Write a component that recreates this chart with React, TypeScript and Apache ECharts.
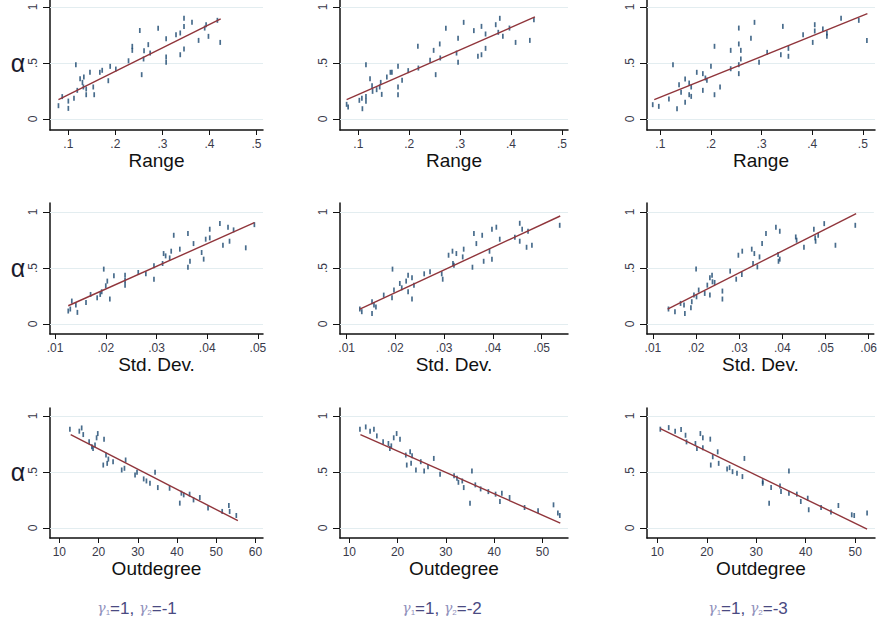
import React, { useEffect, useRef } from "react";
import * as echarts from "echarts";

// ---------- data ----------
const rangeTicks = [0.1, 0.2, 0.3, 0.4, 0.5];
const sdTicksA = [0.01, 0.02, 0.03, 0.04, 0.05];
const sdTicksB = [0.01, 0.02, 0.03, 0.04, 0.05, 0.06];
const outTicksA = [10, 20, 30, 40, 50, 60];
const outTicksB = [10, 20, 30, 40, 50];
const yTicks = [0, 0.5, 1];

const xTitles = ["Range", "Std. Dev.", "Outdegree"];
const gamma2 = ["-1", "-2", "-3"];

const range1: number[][] = [[0.079,0.119],[0.087,0.2],[0.1,0.16],[0.1,0.095],[0.112,0.185],[0.116,0.485],[0.119,0.256],[0.125,0.36],[0.13,0.327],[0.132,0.286],[0.133,0.375],[0.138,0.268],[0.138,0.217],[0.146,0.417],[0.153,0.286],[0.155,0.217],[0.167,0.417],[0.172,0.435],[0.185,0.342],[0.189,0.47],[0.201,0.446],[0.228,0.52],[0.236,0.649],[0.236,0.613],[0.252,0.79],[0.256,0.396],[0.26,0.536],[0.261,0.61],[0.27,0.664],[0.274,0.589],[0.291,0.81],[0.308,0.717],[0.308,0.554],[0.308,0.506],[0.329,0.753],[0.338,0.768],[0.338,0.574],[0.346,0.827],[0.346,0.899],[0.346,0.625],[0.363,0.863],[0.377,0.702],[0.39,0.812],[0.393,0.842],[0.398,0.738],[0.417,0.881],[0.423,0.684]];
const range2: number[][] = [[0.077,0.131],[0.08,0.107],[0.102,0.167],[0.107,0.185],[0.108,0.092],[0.115,0.158],[0.115,0.202],[0.115,0.485],[0.123,0.36],[0.127,0.298],[0.128,0.247],[0.136,0.262],[0.142,0.286],[0.144,0.327],[0.146,0.22],[0.156,0.375],[0.163,0.417],[0.166,0.417],[0.178,0.47],[0.178,0.286],[0.178,0.217],[0.186,0.345],[0.198,0.432],[0.217,0.649],[0.218,0.455],[0.241,0.524],[0.248,0.613],[0.252,0.396],[0.26,0.67],[0.261,0.545],[0.272,0.81],[0.293,0.589],[0.296,0.72],[0.296,0.506],[0.307,0.863],[0.327,0.789],[0.335,0.56],[0.342,0.827],[0.342,0.574],[0.35,0.759],[0.35,0.631],[0.37,0.842],[0.378,0.899],[0.375,0.774],[0.384,0.738],[0.397,0.812],[0.409,0.684],[0.437,0.702],[0.445,0.887]];
const range3: number[][] = [[0.085,0.128],[0.097,0.113],[0.117,0.179],[0.125,0.485],[0.133,0.092],[0.137,0.307],[0.141,0.238],[0.149,0.357],[0.149,0.149],[0.157,0.321],[0.157,0.217],[0.161,0.286],[0.161,0.202],[0.172,0.417],[0.184,0.405],[0.184,0.256],[0.189,0.366],[0.192,0.345],[0.2,0.47],[0.207,0.649],[0.207,0.217],[0.218,0.286],[0.239,0.613],[0.239,0.449],[0.255,0.812],[0.255,0.67],[0.255,0.485],[0.255,0.405],[0.259,0.613],[0.259,0.536],[0.279,0.72],[0.286,0.863],[0.295,0.506],[0.311,0.595],[0.338,0.574],[0.342,0.827],[0.353,0.631],[0.353,0.56],[0.382,0.753],[0.401,0.684],[0.405,0.842],[0.405,0.786],[0.421,0.804],[0.429,0.768],[0.429,0.738],[0.457,0.899],[0.492,0.881],[0.508,0.702]];

const sd1: number[][] = [[0.0126,0.116],[0.013,0.134],[0.0133,0.205],[0.0141,0.169],[0.0144,0.104],[0.0161,0.193],[0.017,0.264],[0.0183,0.234],[0.0189,0.264],[0.0192,0.288],[0.0196,0.49],[0.02,0.341],[0.0203,0.383],[0.0208,0.223],[0.0216,0.43],[0.0238,0.436],[0.0238,0.389],[0.0238,0.347],[0.0264,0.46],[0.0279,0.448],[0.0295,0.4],[0.0295,0.519],[0.0312,0.54],[0.0314,0.629],[0.0318,0.608],[0.0326,0.59],[0.0329,0.65],[0.0334,0.792],[0.0346,0.668],[0.0362,0.807],[0.0362,0.507],[0.0366,0.56],[0.0373,0.718],[0.0389,0.638],[0.0393,0.579],[0.0397,0.757],[0.0405,0.846],[0.0405,0.769],[0.0425,0.896],[0.0431,0.703],[0.0441,0.864],[0.0444,0.739],[0.0452,0.84],[0.0476,0.68],[0.0493,0.887]];
const sd2: number[][] = [[0.0127,0.134],[0.0131,0.11],[0.0152,0.095],[0.0152,0.199],[0.0156,0.169],[0.016,0.151],[0.0176,0.258],[0.0193,0.234],[0.0194,0.49],[0.0197,0.303],[0.0209,0.362],[0.0213,0.323],[0.0222,0.383],[0.0226,0.436],[0.0226,0.288],[0.0234,0.412],[0.0234,0.223],[0.0238,0.347],[0.0259,0.448],[0.0271,0.466],[0.0295,0.448],[0.0297,0.4],[0.0309,0.614],[0.0317,0.65],[0.0318,0.54],[0.032,0.525],[0.0325,0.629],[0.0338,0.599],[0.034,0.668],[0.0358,0.507],[0.0361,0.807],[0.0366,0.718],[0.0378,0.792],[0.0381,0.56],[0.0393,0.65],[0.0398,0.579],[0.0398,0.846],[0.0407,0.864],[0.0414,0.757],[0.0445,0.774],[0.0455,0.899],[0.0455,0.739],[0.046,0.846],[0.0469,0.685],[0.0472,0.828],[0.048,0.703],[0.0537,0.881]];
const sd3: number[][] = [[0.0136,0.134],[0.0151,0.11],[0.0164,0.184],[0.0172,0.169],[0.0174,0.095],[0.0188,0.145],[0.019,0.199],[0.0195,0.258],[0.02,0.49],[0.0201,0.243],[0.0206,0.303],[0.022,0.273],[0.0226,0.347],[0.0232,0.258],[0.0232,0.412],[0.0237,0.436],[0.0238,0.377],[0.0243,0.371],[0.0261,0.294],[0.0261,0.223],[0.0279,0.472],[0.0293,0.4],[0.0298,0.614],[0.0306,0.442],[0.0307,0.65],[0.0329,0.668],[0.0332,0.54],[0.0335,0.629],[0.0342,0.51],[0.0347,0.599],[0.0353,0.718],[0.0362,0.807],[0.0385,0.864],[0.039,0.62],[0.0391,0.56],[0.0394,0.828],[0.0394,0.579],[0.0431,0.777],[0.0433,0.748],[0.045,0.685],[0.0473,0.846],[0.0476,0.769],[0.0477,0.739],[0.0483,0.792],[0.0497,0.896],[0.0523,0.703],[0.0569,0.881]];

const out1: number[][] = [[12.7,0.882],[15.1,0.864],[15.7,0.893],[16.1,0.834],[17.6,0.769],[18.3,0.725],[18.6,0.71],[19.1,0.74],[19.5,0.805],[19.8,0.843],[21.4,0.793],[21.2,0.562],[21.9,0.651],[22.2,0.577],[22.5,0.615],[23.7,0.592],[25.9,0.518],[26.6,0.533],[26.9,0.607],[29.3,0.473],[29.8,0.497],[31.5,0.438],[32.2,0.42],[33.1,0.399],[34.4,0.497],[35.1,0.361],[38.1,0.355],[40.7,0.222],[41.1,0.311],[41.7,0.296],[43.2,0.302],[44.2,0.251],[45.8,0.272],[47.9,0.178],[51.5,0.148],[53.2,0.201],[53.4,0.148],[55.1,0.112]];
const out2: number[][] = [[12.2,0.882],[13.4,0.902],[14.3,0.864],[15.1,0.882],[15.7,0.822],[17,0.769],[18.1,0.754],[18.4,0.71],[18.7,0.733],[19.2,0.805],[19.8,0.843],[20.5,0.793],[21.7,0.651],[21.9,0.562],[22.6,0.68],[22.8,0.577],[23,0.645],[23.8,0.518],[24.8,0.592],[25.5,0.509],[26.3,0.547],[27.5,0.621],[28.8,0.479],[31.7,0.467],[32.3,0.444],[32.6,0.408],[33.4,0.42],[33.7,0.361],[35,0.222],[35.4,0.509],[36.1,0.385],[37.2,0.349],[38.8,0.325],[40.3,0.302],[41.2,0.237],[41.6,0.311],[43.2,0.272],[46.3,0.183],[49.1,0.154],[52.3,0.207],[53.2,0.133],[53.6,0.112]];
const out3: number[][] = [[10.6,0.882],[12.3,0.896],[13.6,0.864],[14.8,0.879],[15.7,0.828],[15.9,0.769],[17.7,0.754],[18,0.71],[18.7,0.843],[19.2,0.805],[19.2,0.716],[20.7,0.793],[20.8,0.562],[21.2,0.636],[22.2,0.68],[22.4,0.577],[24.1,0.527],[24.6,0.539],[25.2,0.503],[26.1,0.488],[27.2,0.459],[27.6,0.621],[31.3,0.414],[31.3,0.399],[32.6,0.222],[33,0.361],[34.8,0.376],[35,0.325],[36.6,0.509],[36.6,0.311],[38.2,0.302],[39,0.237],[40.4,0.266],[40.6,0.163],[43.1,0.183],[45.1,0.142],[46.6,0.201],[49.3,0.118],[49.8,0.112],[52.4,0.133]];

// fitted-line endpoints
const rangeFit1 = [[0.079, 0.173], [0.424, 0.893]];
const rangeFit2 = [[0.077, 0.173], [0.447, 0.911]];
const rangeFit3 = [[0.088, 0.173], [0.509, 0.94]];
const sdFit1 = [[0.0126, 0.163], [0.0493, 0.905]];
const sdFit2 = [[0.0127, 0.134], [0.0538, 0.964]];
const sdFit3 = [[0.0134, 0.134], [0.0571, 0.985]];
const outFit1 = [[12.9, 0.834], [55.5, 0.065]];
const outFit2 = [[12.3, 0.834], [53.7, 0.044]];
const outFit3 = [[10.6, 0.888], [52.4, -0.009]];

// axis extents (plot region edges)
const xRanges = [
  [[0.061, 0.514], [0.064, 0.512], [0.0737, 0.524]],
  [[0.009, 0.051], [0.00863, 0.0554], [0.00862, 0.0612]],
  [[7.63, 61.9], [8.07, 55.3], [7.91, 54.0]],
];
const yRanges = [[-0.098, 1.0625], [-0.089, 1.08], [-0.089, 1.071]];

const panelData = [[range1, range2, range3], [sd1, sd2, sd3], [out1, out2, out3]];
const panelFits = [[rangeFit1, rangeFit2, rangeFit3], [sdFit1, sdFit2, sdFit3], [outFit1, outFit2, outFit3]];
const panelTicks = [[rangeTicks, rangeTicks, rangeTicks], [sdTicksA, sdTicksA, sdTicksB], [outTicksA, outTicksB, outTicksB]];

// ---------- layout ----------
const colLeft = [50, 340, 647];
const colWidth = [213, 228, 228];
const rowTop = [0, 203, 408];
const rowHeight = [130, 131, 130];
const alphaY = [63, 268, 472];
const subX = [137, 442, 748];
const FONT = '"Liberation Sans", Arial, Helvetica, sans-serif';
const MARK = "#1a476f";
const FIT = "#90353b";
const GRIDC = "#e3edf0";

const fmt = (v: number) => {
  const s = String(+Number(v).toFixed(5));
  if (s.startsWith("0.")) return s.slice(1);
  if (s.startsWith("-0.")) return "-" + s.slice(2);
  return s;
};

export default function App() {
  const ref = useRef<HTMLDivElement>(null);
  useEffect(() => {
    if (!ref.current) return;
    const chart = echarts.init(ref.current, null, { renderer: "svg" });
    const grid: any[] = [];
    const xAxis: any[] = [];
    const yAxis: any[] = [];
    const series: any[] = [];
    const graphic: any[] = [];
    let idx = 0;
    for (let r = 0; r < 3; r++) {
      for (let c = 0; c < 3; c++) {
        grid.push({ left: colLeft[c], top: rowTop[r], width: colWidth[c], height: rowHeight[r], containLabel: false });
        xAxis.push({
          type: "value",
          gridIndex: idx,
          min: xRanges[r][c][0],
          max: xRanges[r][c][1],
          name: xTitles[r],
          nameLocation: "middle",
          nameGap: 19,
          nameTextStyle: { fontFamily: FONT, fontSize: 19, color: "#111", verticalAlign: "top" },
          axisLine: { onZero: false, lineStyle: { color: "#111", width: 1.5 } },
          axisTick: { show: true, length: 5, customValues: panelTicks[r][c], lineStyle: { color: "#111", width: 1 } },
          axisLabel: { customValues: panelTicks[r][c], formatter: fmt, fontFamily: FONT, fontSize: 12, color: "#3a3a4a", margin: 8 },
          splitLine: { show: false },
        });
        yAxis.push({
          type: "value",
          gridIndex: idx,
          min: yRanges[r][0],
          max: yRanges[r][1],
          axisLine: { onZero: false, lineStyle: { color: "#111", width: 1.5 } },
          axisTick: { show: true, length: 7, customValues: yTicks, lineStyle: { color: "#111", width: 1 } },
          axisLabel: { customValues: yTicks, formatter: fmt, rotate: 90, fontFamily: FONT, fontSize: 12, color: "#3a3a4a", margin: 11 },
          splitLine: { show: false },
        });
        series.push({
          type: "scatter",
          xAxisIndex: idx,
          yAxisIndex: idx,
          data: panelData[r][c],
          symbol: "rect",
          symbolSize: [1.7, 5],
          itemStyle: { color: MARK },
          z: 2,
          markLine: {
            silent: true,
            symbol: ["none", "none"],
            label: { show: false },
            lineStyle: { color: GRIDC, width: 1, type: "solid" },
            data: yTicks.map((v) => ({ yAxis: v })),
            z: 1,
          },
        });
        series.push({
          type: "line",
          xAxisIndex: idx,
          yAxisIndex: idx,
          data: panelFits[r][c],
          symbol: "none",
          lineStyle: { color: FIT, width: 1.4 },
          z: 3,
        });
        idx++;
      }
      // y title (first column only)
      graphic.push({
        type: "text",
        x: 18,
        y: alphaY[r],
        style: { text: "α", fontFamily: FONT, fontSize: 25, fill: "#1c1c2e", align: "center", verticalAlign: "middle" },
      });
    }
    for (let c = 0; c < 3; c++) {
      graphic.push({
        type: "text",
        x: subX[c],
        y: 608,
        style: {
          text: `{g|γ}{s|1}{n|=1, }{g|γ}{s|2}{n|=${gamma2[c]}}`,
          align: "center",
          verticalAlign: "middle",
          rich: {
            g: { fontFamily: '"DejaVu Serif", serif', fontSize: 14, fill: "#9090bb", fontStyle: "italic" },
            s: { fontFamily: FONT, fontSize: 8, fill: "#9090bb", verticalAlign: "bottom", padding: [7, 0, 0, 0] },
            n: { fontFamily: FONT, fontSize: 17, fill: "#4a4a82" },
          },
        },
      });
    }
    chart.setOption({
      animation: false,
      backgroundColor: "#ffffff",
      grid,
      xAxis,
      yAxis,
      series,
      graphic,
    });
    return () => chart.dispose();
  }, []);
  return <div ref={ref} style={{ position: "fixed", left: 0, top: 0, width: 880, height: 631 }} />;
}
